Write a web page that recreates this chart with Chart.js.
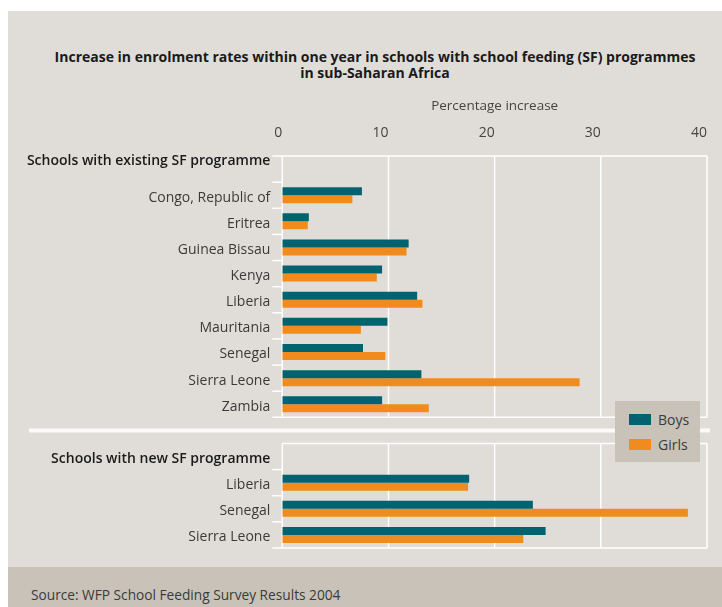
<!DOCTYPE html>
<html>
<head>
<meta charset="utf-8">
<script src="https://cdn.jsdelivr.net/npm/chart.js@4.4.1/dist/chart.umd.min.js"></script>
<style>
  html, body { margin: 0; padding: 0; background: #ffffff; }
  #wrap { position: relative; width: 722px; height: 607px; overflow: hidden; font-family: "Open Sans", sans-serif; }
  #panel { position: absolute; left: 8px; top: 11px; width: 714px; height: 556px; background: #e0ddd8; }
  #foot { position: absolute; left: 8px; top: 567px; width: 714px; height: 40px; background: #c9c2b9; }
  #src { position: absolute; left: 31px; top: 594px; transform: translateY(-50%); font-size: 13.7px; color: #3a3a3a; white-space: nowrap; }
  #title { position: absolute; left: 0; width: 750px; top: 49px; text-align: center; font-weight: 700; font-size: 14px; line-height: 16px; color: #1a1a1a; }
  #chart { position: absolute; left: 0; top: 0; }
  #legend { position: absolute; left: 615px; top: 401px; width: 85px; height: 61px; background: #c9c2b9; }
  .lg { position: absolute; left: 14px; width: 66px; height: 16px; font-size: 14px; color: #3a3a3a; line-height: 16px; }
  .sw { display: inline-block; width: 22px; height: 11px; vertical-align: top; margin-top: 2px; margin-right: 7px; }
</style>
</head>
<body>
<div id="wrap">
  <div id="panel"></div>
  <div id="foot"></div>
  <div id="src">Source: WFP School Feeding Survey Results 2004</div>
  <div id="title">Increase in enrolment rates within one year in schools with school feeding (SF) programmes<br>in sub-Saharan Africa</div>
  <canvas id="chart" width="722" height="607"></canvas>
  <div id="legend">
    <div class="lg" style="top:11px"><span class="sw" style="background:#00636f"></span>Boys</div>
    <div class="lg" style="top:36px"><span class="sw" style="background:#f18b1e"></span>Girls</div>
  </div>
</div>
<script>
// ---- data ----
const sectionTitles = ['Schools with existing SF programme', 'Schools with new SF programme'];
const existingCountries = ['Congo, Republic of', 'Eritrea', 'Guinea Bissau', 'Kenya', 'Liberia', 'Mauritania', 'Senegal', 'Sierra Leone', 'Zambia'];
const existingBoys  = [7.5, 2.5, 11.9, 9.4, 12.7, 9.9, 7.6, 13.1, 9.4];
const existingGirls = [6.6, 2.4, 11.7, 8.9, 13.2, 7.4, 9.7, 28.0, 13.8];
const newCountries = ['Liberia', 'Senegal', 'Sierra Leone'];
const newBoys  = [17.6, 23.6, 24.8];
const newGirls = [17.5, 38.2, 22.7];
const xTicks = [0, 10, 20, 30, 40];
const seriesNames = ['Boys', 'Girls'];

// ---- build rows: header, countries, gap, header, countries ----
const nE = existingCountries.length, nN = newCountries.length;
const header1 = 0, gapRow = nE + 1, header2 = nE + 2;
const labels = [[sectionTitles[0], ''], ...existingCountries, '', sectionTitles[1], ...newCountries];
const boysData  = [null, ...existingBoys, null, null, ...newBoys];
const girlsData = [null, ...existingGirls, null, null, ...newGirls];
const isHeader = i => i === header1 || i === header2;

const sectionGrid = {
  id: 'sectionGrid',
  beforeDraw(chart) {
    // nudge row labels slightly down to sit like the original typeface
    try {
      const y = chart.scales.y;
      const items = y.getLabelItems(chart.chartArea);
      items.forEach((it, i) => { if (i !== header1 && it.options && it.options.translation) it.options.translation[1] += 2.5; });
    } catch (e) {}
  },
  beforeDatasetsDraw(chart) {
    const { ctx, scales: { x, y } } = chart;
    const half = (y.getPixelForValue(1) - y.getPixelForValue(0)) / 2;
    const xl = x.getPixelForValue(xTicks[0]);
    const xr = x.getPixelForValue(xTicks[xTicks.length - 1]);
    const line = (x1, y1, x2, y2) => { ctx.beginPath(); ctx.moveTo(x1, y1); ctx.lineTo(x2, y2); ctx.stroke(); };
    const sections = [[header1, nE], [header2, header2 + nN]];
    ctx.save();
    ctx.strokeStyle = '#ffffff';
    ctx.lineWidth = 1.5;
    sections.forEach(([a, b], si) => {
      const top = y.getPixelForValue(a) - half;
      const bot = y.getPixelForValue(b) + half;
      xTicks.forEach(v => { const px = x.getPixelForValue(v); line(px, top, px, bot); });
      line(si === 0 ? xl - 10 : xl, top, xr, top);
      line(xl - 10, bot, xr, bot);
      for (let i = a; i < b; i++) {
        const yy = y.getPixelForValue(i) + half;
        line(xl - 10, yy, xl, yy);
      }
    });
    const sy = y.getPixelForValue(gapRow);
    ctx.lineWidth = 4;
    ctx.strokeStyle = '#fbfaf9';
    line(29, sy, xr + 3, sy);
    ctx.restore();
  }
};

Chart.defaults.font.family = '"Open Sans", sans-serif';

new Chart(document.getElementById('chart'), {
  type: 'bar',
  data: {
    labels: labels,
    datasets: [
      { label: seriesNames[0], data: boysData, backgroundColor: '#00636f', borderWidth: 0 },
      { label: seriesNames[1], data: girlsData, backgroundColor: '#f18b1e', borderWidth: 0 }
    ]
  },
  options: {
    indexAxis: 'y',
    responsive: false,
    devicePixelRatio: 1,
    animation: false,
    categoryPercentage: 0.612,
    barPercentage: 1,
    layout: { padding: { left: 0, right: 11.7, top: 90, bottom: 59 } },
    plugins: { legend: { display: false }, tooltip: { enabled: false }, title: { display: false } },
    scales: {
      x: {
        type: 'linear',
        position: 'top',
        min: xTicks[0],
        max: xTicks[xTicks.length - 1],
        afterBuildTicks: s => { s.ticks = xTicks.map(v => ({ value: v })); },
        ticks: { color: '#444444', font: { size: 14 }, padding: 15, align: 'end' },
        grid: { display: false, drawTicks: false },
        border: { display: false },
        title: { display: true, text: 'Percentage increase', color: '#444444', font: { size: 13.5 }, padding: { top: 8, bottom: 0 } },
        afterFit: s => { s.height = 66; }
      },
      y: {
        type: 'category',
        grid: { display: false, drawTicks: false },
        border: { display: false },
        ticks: {
          autoSkip: false,
          padding: 12,
          color: c => isHeader(c.index) ? '#1a1a1a' : '#3a3a3a',
          font: c => ({ size: 14, weight: isHeader(c.index) ? '600' : '400' })
        },
        afterFit: s => { s.width = 282.3; }
      }
    }
  },
  plugins: [sectionGrid]
});
</script>
</body>
</html>
